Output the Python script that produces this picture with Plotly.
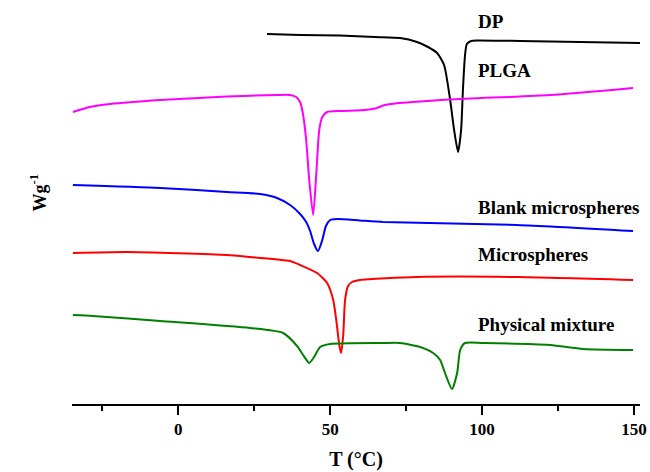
import plotly.graph_objects as go

# Temperatures (°C) and heat-flow signals (arbitrary, stacked offsets)
dp_T = [29.2, 40.1, 53.2, 64.7, 73.0, 78.6, 82.2, 85.2, 87.5, 89.5, 90.8, 92.1, 93.1, 93.7, 94.4, 95.0, 96.4, 98.3, 112.5, 132.2, 152.0]
dp_py = [34, 35, 35.5, 37, 38, 42, 47, 53, 65, 100, 130, 152, 130, 90, 55, 44, 41, 40.5, 41, 42, 43]

plga_T = [-34.7, -29.1, -22.5, -6.0, 16.0, 32.5, 36.8, 38.8, 40.1, 41.1, 42.1, 43.1, 44.4, 45.4, 46.4, 47.4, 49.0, 53.3, 61.5, 64.8, 68.0, 71.3, 89.4, 122.4, 149.7]
plga_py = [112, 107, 104, 100, 96.5, 95, 95, 97, 102, 115, 140, 180, 215, 175, 130, 117, 112, 111, 110, 108.5, 105, 103.5, 99.5, 95, 88]

blank_T = [-34.7, -6.0, 16.0, 26.9, 32.5, 36.8, 40.1, 42.1, 43.4, 44.7, 46.0, 47.4, 48.6, 50.0, 52.3, 59.8, 67.4, 111.5, 149.7]
blank_py = [185, 188, 192, 194, 198, 205, 214, 222, 231, 244, 251, 240, 226, 220, 219, 220.5, 222, 225, 231]

micro_T = [-34.7, -16.9, 16.0, 23.6, 36.8, 40.1, 45.7, 49.0, 51.0, 52.0, 53.0, 53.6, 54.3, 54.9, 55.9, 57.2, 59.8, 78.5, 111.5, 149.7]
micro_py = [253, 252, 255, 257, 261, 265, 273, 283, 300, 320, 345, 353, 335, 300, 286, 282, 280, 277, 277, 280]

phys_T = [-34.7, -28.1, -6.0, 23.6, 34.5, 39.1, 41.1, 43.1, 44.7, 46.7, 50.0, 67.4, 73.0, 79.6, 83.9, 86.2, 87.8, 90.1, 91.8, 92.8, 94.4, 100.3, 122.4, 133.3, 149.7]
phys_py = [315, 316, 321, 328, 333, 346, 355, 363, 357, 347, 344, 343, 343, 347, 353, 360, 373, 389, 373, 350, 343, 343, 345, 349, 350]

BASE = 404  # signal = BASE - picture row
def sig(v):
    return [BASE - p for p in v]

series = [
    ("DP", dp_T, dp_py, "#000000"),
    ("PLGA", plga_T, plga_py, "#ff00ff"),
    ("Blank microspheres", blank_T, blank_py, "#0000ff"),
    ("Microspheres", micro_T, micro_py, "#ff0000"),
    ("Physical mixture", phys_T, phys_py, "#008000"),
]

label_names = ["DP", "PLGA", "Blank microspheres", "Microspheres", "Physical mixture"]
label_T = [98.0, 98.0, 98.0, 98.0, 98.0]
label_sig = [383, 334, 197, 150, 80]

fig = go.Figure()
for name, T, py, col in series:
    fig.add_trace(go.Scatter(x=T, y=sig(py), mode="lines", name=name,
                             line=dict(color=col, width=2, shape="spline", smoothing=0.6),
                             showlegend=False))

font_serif = "Liberation Serif"
for n, tx, ty in zip(label_names, label_T, label_sig):
    fig.add_annotation(x=tx, y=ty, xref="x", yref="y", text="<b>%s</b>" % n,
                       showarrow=False, xanchor="left", yanchor="middle",
                       font=dict(family=font_serif, size=19, color="black"))

fig.add_annotation(x=(25 - 72) / 568, y=(404 - 193) / 394, xref="paper", yref="paper",
                   text="<b>Wg<sup>-1</sup></b>", textangle=-90, showarrow=False,
                   font=dict(family=font_serif, size=18, color="black"))

fig.update_layout(
    width=650, height=472,
    margin=dict(l=72, r=10, t=10, b=68, autoexpand=False),
    plot_bgcolor="white", paper_bgcolor="white",
    xaxis=dict(range=[-35, 152], showgrid=False, zeroline=False, automargin=False,
               showline=True, linecolor="black", linewidth=2,
               ticks="outside", ticklen=9, tickwidth=2, tickcolor="black",
               tickvals=[0, 50, 100, 150],
               minor=dict(tickvals=[-25, 25, 75, 125], ticks="outside", ticklen=5, tickwidth=2, tickcolor="black"),
               tickfont=dict(family=font_serif, size=17, color="black", weight="bold"),
               title=dict(text="<b>T (°C)</b>", font=dict(family=font_serif, size=20, color="black"), standoff=14)),
    yaxis=dict(range=[0, 394], visible=False),
)

fig.write_html("out.html")
